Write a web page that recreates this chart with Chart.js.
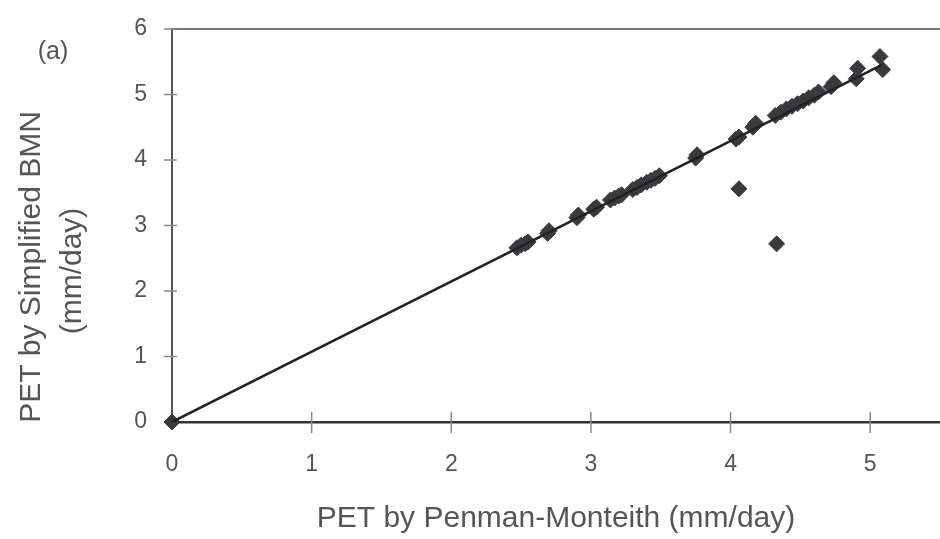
<!DOCTYPE html>
<html>
<head>
<meta charset="utf-8">
<script src="https://cdn.jsdelivr.net/npm/chart.js@4/dist/chart.umd.min.js"></script>
<style>
  html, body { margin: 0; padding: 0; background: #fff; }
  #wrap { width: 940px; height: 539px; }
</style>
</head>
<body>
<div id="wrap"><canvas id="pet"></canvas></div>
<script>
// PET by Penman-Monteith (x) vs PET by Simplified BMN (y), mm/day
var pmValues = [0, 2.47, 2.50, 2.53, 2.55, 2.69, 2.70, 2.90, 2.91, 3.02, 3.04,
    3.14, 3.17, 3.20, 3.22, 3.30, 3.33, 3.36, 3.40, 3.43, 3.46, 3.49,
    3.75, 3.76, 4.04, 4.06, 4.16, 4.18, 4.32, 4.36, 4.40, 4.44, 4.48,
    4.52, 4.56, 4.60, 4.63, 4.72, 4.74, 4.90, 4.91, 5.07, 5.09, 4.06, 4.33];
var bmnValues = [0, 2.66, 2.70, 2.72, 2.75, 2.88, 2.92, 3.12, 3.16, 3.25, 3.28,
    3.39, 3.42, 3.45, 3.47, 3.55, 3.58, 3.62, 3.66, 3.69, 3.72, 3.76,
    4.03, 4.08, 4.32, 4.35, 4.50, 4.56, 4.68, 4.73, 4.78, 4.82, 4.86,
    4.90, 4.95, 4.99, 5.04, 5.12, 5.18, 5.24, 5.40, 5.58, 5.38, 3.56, 2.72];
// fitted line end points
var fitX = [0, 5.08];
var fitY = [0, 5.45];
var xTicks = [0, 1, 2, 3, 4, 5];
var yTicks = [0, 1, 2, 3, 4, 5, 6];

var grey = "#555";
var font = "'Liberation Sans', Arial, sans-serif";

function toPoints(xs, ys) {
    return xs.map(function (x, i) { return { x: x, y: ys[i] }; });
}

// frame line on top, crossing tick marks, y title, panel label
var extras = {
    id: "extras",
    beforeDatasetsDraw: function (chart) {
        var ctx = chart.ctx, a = chart.chartArea;
        var xs = chart.scales.x, ys = chart.scales.y;
        ctx.save();
        ctx.strokeStyle = "#777";
        ctx.lineWidth = 2;
        ctx.beginPath();
        ctx.moveTo(a.left, a.top);
        ctx.lineTo(a.right, a.top);
        ctx.stroke();

        ctx.strokeStyle = "#888";
        ctx.lineWidth = 1.5;
        ctx.beginPath();
        xTicks.forEach(function (v) {
            if (v === 0) return;
            var px = xs.getPixelForValue(v);
            ctx.moveTo(px, a.bottom - 10);
            ctx.lineTo(px, a.bottom + 11);
        });
        yTicks.forEach(function (v) {
            var py = ys.getPixelForValue(v);
            ctx.moveTo(a.left - 8, py);
            ctx.lineTo(a.left + 5, py);
        });
        ctx.stroke();
        ctx.restore();
    },
    afterDraw: function (chart) {
        var ctx = chart.ctx;
        ctx.save();
        ctx.fillStyle = grey;
        ctx.font = "25px " + font;
        ctx.textAlign = "center";
        ctx.textBaseline = "middle";
        ctx.fillText("(a)", 53, 52);

        ctx.font = "30px " + font;
        ctx.translate(0, 267);
        ctx.rotate(-Math.PI / 2);
        ctx.fillText("PET by Simplified BMN", 0, 32);
        ctx.fillText("(mm/day)", -4, 73);
        ctx.restore();
    }
};

var ctx = document.getElementById("pet");
var petChart = new Chart(ctx, {
    type: "scatter",
    data: {
        datasets: [
            {
                label: "fit",
                type: "line",
                data: toPoints(fitX, fitY),
                borderColor: "#222",
                borderWidth: 2.5,
                pointRadius: 0,
                fill: false
            },
            {
                label: "PET",
                data: toPoints(pmValues, bmnValues),
                pointStyle: "rectRot",
                pointRadius: 8,
                backgroundColor: "#3a3a3e",
                borderColor: "#3a3a3e",
                borderWidth: 1,
                clip: false
            }
        ]
    },
    options: {
        responsive: true,
        maintainAspectRatio: false,
        animation: false,
        layout: {
            autoPadding: false,
            padding: { top: 29, right: 0, left: 0, bottom: 0 }
        },
        plugins: {
            legend: { display: false },
            tooltip: { enabled: false }
        },
        scales: {
            x: {
                type: "linear",
                min: 0,
                max: 5.5,
                afterBuildTicks: function (s) {
                    s.ticks = xTicks.map(function (v) { return { value: v }; });
                },
                afterFit: function (s) {
                    s.height = 117;
                    s.paddingRight = 0;
                },
                grid: { drawOnChartArea: false, drawTicks: false },
                border: { color: "#333", width: 2.5 },
                ticks: { color: grey, font: { family: font, size: 23 }, padding: 29 },
                title: {
                    display: true,
                    text: "PET by Penman-Monteith (mm/day)",
                    color: grey,
                    font: { family: font, size: 30 },
                    padding: { top: 0, bottom: 2 }
                }
            },
            y: {
                min: 0,
                max: 6,
                afterBuildTicks: function (s) {
                    s.ticks = yTicks.map(function (v) { return { value: v }; });
                },
                afterFit: function (s) {
                    s.width = 172;
                    s.paddingTop = 0;
                },
                grid: { drawOnChartArea: false, drawTicks: false },
                border: { color: "#555", width: 2 },
                ticks: { color: grey, font: { family: font, size: 23 }, padding: 25 }
            }
        }
    },
    plugins: [extras]
});
</script>
</body>
</html>
